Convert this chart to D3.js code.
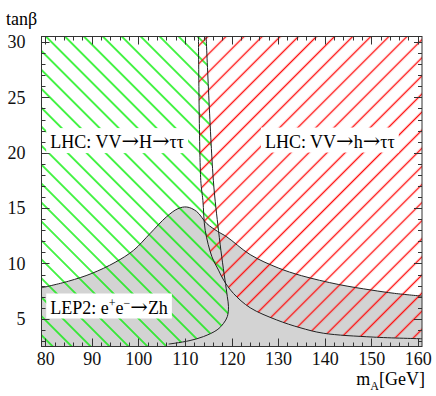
<!DOCTYPE html>
<html>
<head>
<meta charset="utf-8">
<script src="https://cdn.jsdelivr.net/npm/d3@7"></script>
<style>
  body { margin: 0; background: #fff; }
  svg { display: block; }
  svg text { font-family: "Liberation Serif", "Times New Roman", serif; }
  svg text tspan.arrow { font-family: "DejaVu Serif", serif; font-size: 21px; }
</style>
</head>
<body>
<svg id="chart" width="436" height="396"></svg>
<script>
// LEP2 e+e- -> Zh excluded area, upper edge (mA, tanb)
const lepEdge = [
  [79.2, 7.8], [85, 8.4], [90, 9.1], [95, 10.1], [99, 11.2], [102.5, 12.7],
  [106, 14.2], [108.5, 14.95], [110.4, 15.1], [112.5, 14.7], [114.7, 13.6],
  [117, 12.9], [119, 12.4], [124, 10.8], [130, 9.6], [135, 8.9], [143, 8.1],
  [150, 7.6], [155, 7.3], [160.9, 7.05]
];

// LHC VV -> H -> tautau reach, edge of the green area (top to bottom)
const heavyEdge = [
  [114.55, 30.5], [116.1, 17.5], [117.2, 13.0], [117.9, 10.6], [118.6, 8.5],
  [119.1, 7.0], [119.35, 6.1], [119.1, 5.2], [118.3, 4.6], [116.9, 4.0],
  [114, 3.4], [111.1, 3.04], [107.9, 2.8], [106.5, 2.72]
];

// LHC VV -> h -> tautau reach, edge of the red area (top to bottom)
const lightEdge = [
  [112.9, 30.5], [113.4, 17.5], [113.85, 15.7], [114.35, 13.0], [115.8, 10.6],
  [117.2, 9.4], [118.3, 8.5], [120.4, 7.3], [124, 6.0], [129.7, 4.9],
  [134.7, 4.2], [139.7, 3.7], [150.4, 3.35], [160.9, 3.2]
];

const xTicks = [80, 90, 100, 110, 120, 130, 140, 150, 160];
const yTicks = [5, 10, 15, 20, 25, 30];
const xDomain = [79.2, 160.9];
const yDomain = [2.5, 30.5];

const labels = [
  { at: [81.07, 20.42], parts: [['LHC: VV'], ['\u2192', 'arrow'], ['H'], ['\u2192', 'arrow'], ['\u03c4\u03c4']] },
  { at: [127.17, 20.47], parts: [['LHC: VV'], ['\u2192', 'arrow'], ['h'], ['\u2192', 'arrow'], ['\u03c4\u03c4']] },
  { at: [81.07, 5.48], parts: [['LEP2: e'], ['+', 'sup'], ['e'], ['\u2212', 'sup'], ['\u2192', 'arrow'], ['Zh']] }
];

const svg = d3.select('#chart');
const x = d3.scaleLinear().domain(xDomain).range([41.5, 422]);
const y = d3.scaleLinear().domain(yDomain).range([346.5, 36.5]);
const line = d3.line().x((d) => x(d[0])).y((d) => y(d[1])).curve(d3.curveCatmullRom);
const [x0, x1] = xDomain;
const [y0, y1] = yDomain;

function corner(px, py) {
  return `L${x(px)},${y(py)}`;
}

function addHatch(defs, id, color, angle, gap) {
  const p = defs.append('pattern')
    .attr('id', id)
    .attr('patternUnits', 'userSpaceOnUse')
    .attr('width', gap)
    .attr('height', gap)
    .attr('patternTransform', `rotate(${angle})`);

  p.append('line')
    .attr('x1', gap / 2).attr('x2', gap / 2)
    .attr('y1', -1).attr('y2', gap + 1)
    .attr('stroke', color)
    .attr('stroke-width', 1.4);
}

const defs = svg.append('defs');
addHatch(defs, 'green-hatch', '#00ee00', -45, 13.4);
addHatch(defs, 'red-hatch', '#ff1010', 45, 12.8);

// grey LEP2 excluded area
svg.append('path')
  .attr('d', line(lepEdge) + corner(x1, y0) + corner(x0, y0) + 'Z')
  .attr('fill', '#d3d3d3');

// green hatched area, left of heavyEdge
svg.append('path')
  .attr('d', corner(x0, y1).replace('L', 'M') + line(heavyEdge).replace('M', 'L') +
    corner(106, y0) + corner(x0, y0) + 'Z')
  .attr('fill', 'url(#green-hatch)');

// red hatched area, right of lightEdge
svg.append('path')
  .attr('d', line(lightEdge) + corner(x1, y1) + 'Z')
  .attr('fill', 'url(#red-hatch)');

[lepEdge, heavyEdge, lightEdge].forEach((edge) => {
  svg.append('path')
    .attr('d', line(edge))
    .attr('fill', 'none')
    .attr('stroke', '#222')
    .attr('stroke-width', 1);
});

// ticks on all four sides, pointing inward
function drawTicks(values, len) {
  const g = svg.append('g').attr('stroke', '#333').attr('stroke-width', 1);

  values.x.forEach((v) => {
    const px = Math.round(x(v)) + 0.5;
    g.append('line').attr('x1', px).attr('x2', px).attr('y1', y(y0)).attr('y2', y(y0) - len);
    g.append('line').attr('x1', px).attr('x2', px).attr('y1', y(y1)).attr('y2', y(y1) + len);
  });
  values.y.forEach((v) => {
    const py = Math.round(y(v)) + 0.5;
    g.append('line').attr('y1', py).attr('y2', py).attr('x1', x(x0)).attr('x2', x(x0) + len);
    g.append('line').attr('y1', py).attr('y2', py).attr('x1', x(x1)).attr('x2', x(x1) - len);
  });
}

drawTicks({ x: xTicks, y: yTicks }, 8);
drawTicks({
  x: d3.range(80, 161, 2).filter((v) => v % 10 !== 0),
  y: d3.range(3, 31, 1).filter((v) => v % 5 !== 0)
}, 4);

svg.append('rect')
  .attr('x', x(x0))
  .attr('y', y(y1))
  .attr('width', x(x1) - x(x0))
  .attr('height', y(y0) - y(y1))
  .attr('fill', 'none')
  .attr('stroke', '#333')
  .attr('stroke-width', 1);

const xAxis = svg.append('g')
  .attr('transform', `translate(0,${y(y0)})`)
  .call(d3.axisBottom(x).tickValues(xTicks).tickSize(0).tickPadding(6));
const yAxis = svg.append('g')
  .attr('transform', `translate(${x(x0)},0)`)
  .call(d3.axisLeft(y).tickValues(yTicks).tickSize(0).tickPadding(16));

[xAxis, yAxis].forEach((a) => {
  a.attr('font-family', null);
  a.select('.domain').remove();
  a.selectAll('text')
    .attr('font-size', 18)
    .attr('fill', '#111');
});

svg.append('text')
  .attr('x', 6)
  .attr('y', 25)
  .attr('font-size', 18)
  .text('tan\u03b2');

const mLabel = svg.append('text')
  .attr('x', 425)
  .attr('y', 385)
  .attr('text-anchor', 'end')
  .attr('font-size', 18);
mLabel.append('tspan').text('m');
mLabel.append('tspan').attr('font-size', 12).attr('dy', 5).text('A');
mLabel.append('tspan').attr('dy', -5).text('[GeV]');

labels.forEach((lab) => {
  const g = svg.append('g');
  const box = g.append('rect').attr('fill', '#fff');
  const t = g.append('text')
    .attr('x', x(lab.at[0]))
    .attr('y', y(lab.at[1]))
    .attr('font-size', 18);

  let raised = false;
  lab.parts.forEach(([str, kind]) => {
    const s = t.append('tspan').text(str);
    if (kind === 'arrow') s.attr('class', 'arrow');
    if (kind === 'sup' && !raised) {
      s.attr('font-size', 12).attr('dy', -7);
      raised = true;
    } else if (kind !== 'sup' && raised) {
      s.attr('dy', 7);
      raised = false;
    } else if (kind === 'sup') {
      s.attr('font-size', 12);
    }
  });

  const b = t.node().getBBox();
  box.attr('x', b.x - 4)
    .attr('y', b.y - 1)
    .attr('width', b.width + 8)
    .attr('height', b.height + 1);
});
</script>
</body>
</html>
